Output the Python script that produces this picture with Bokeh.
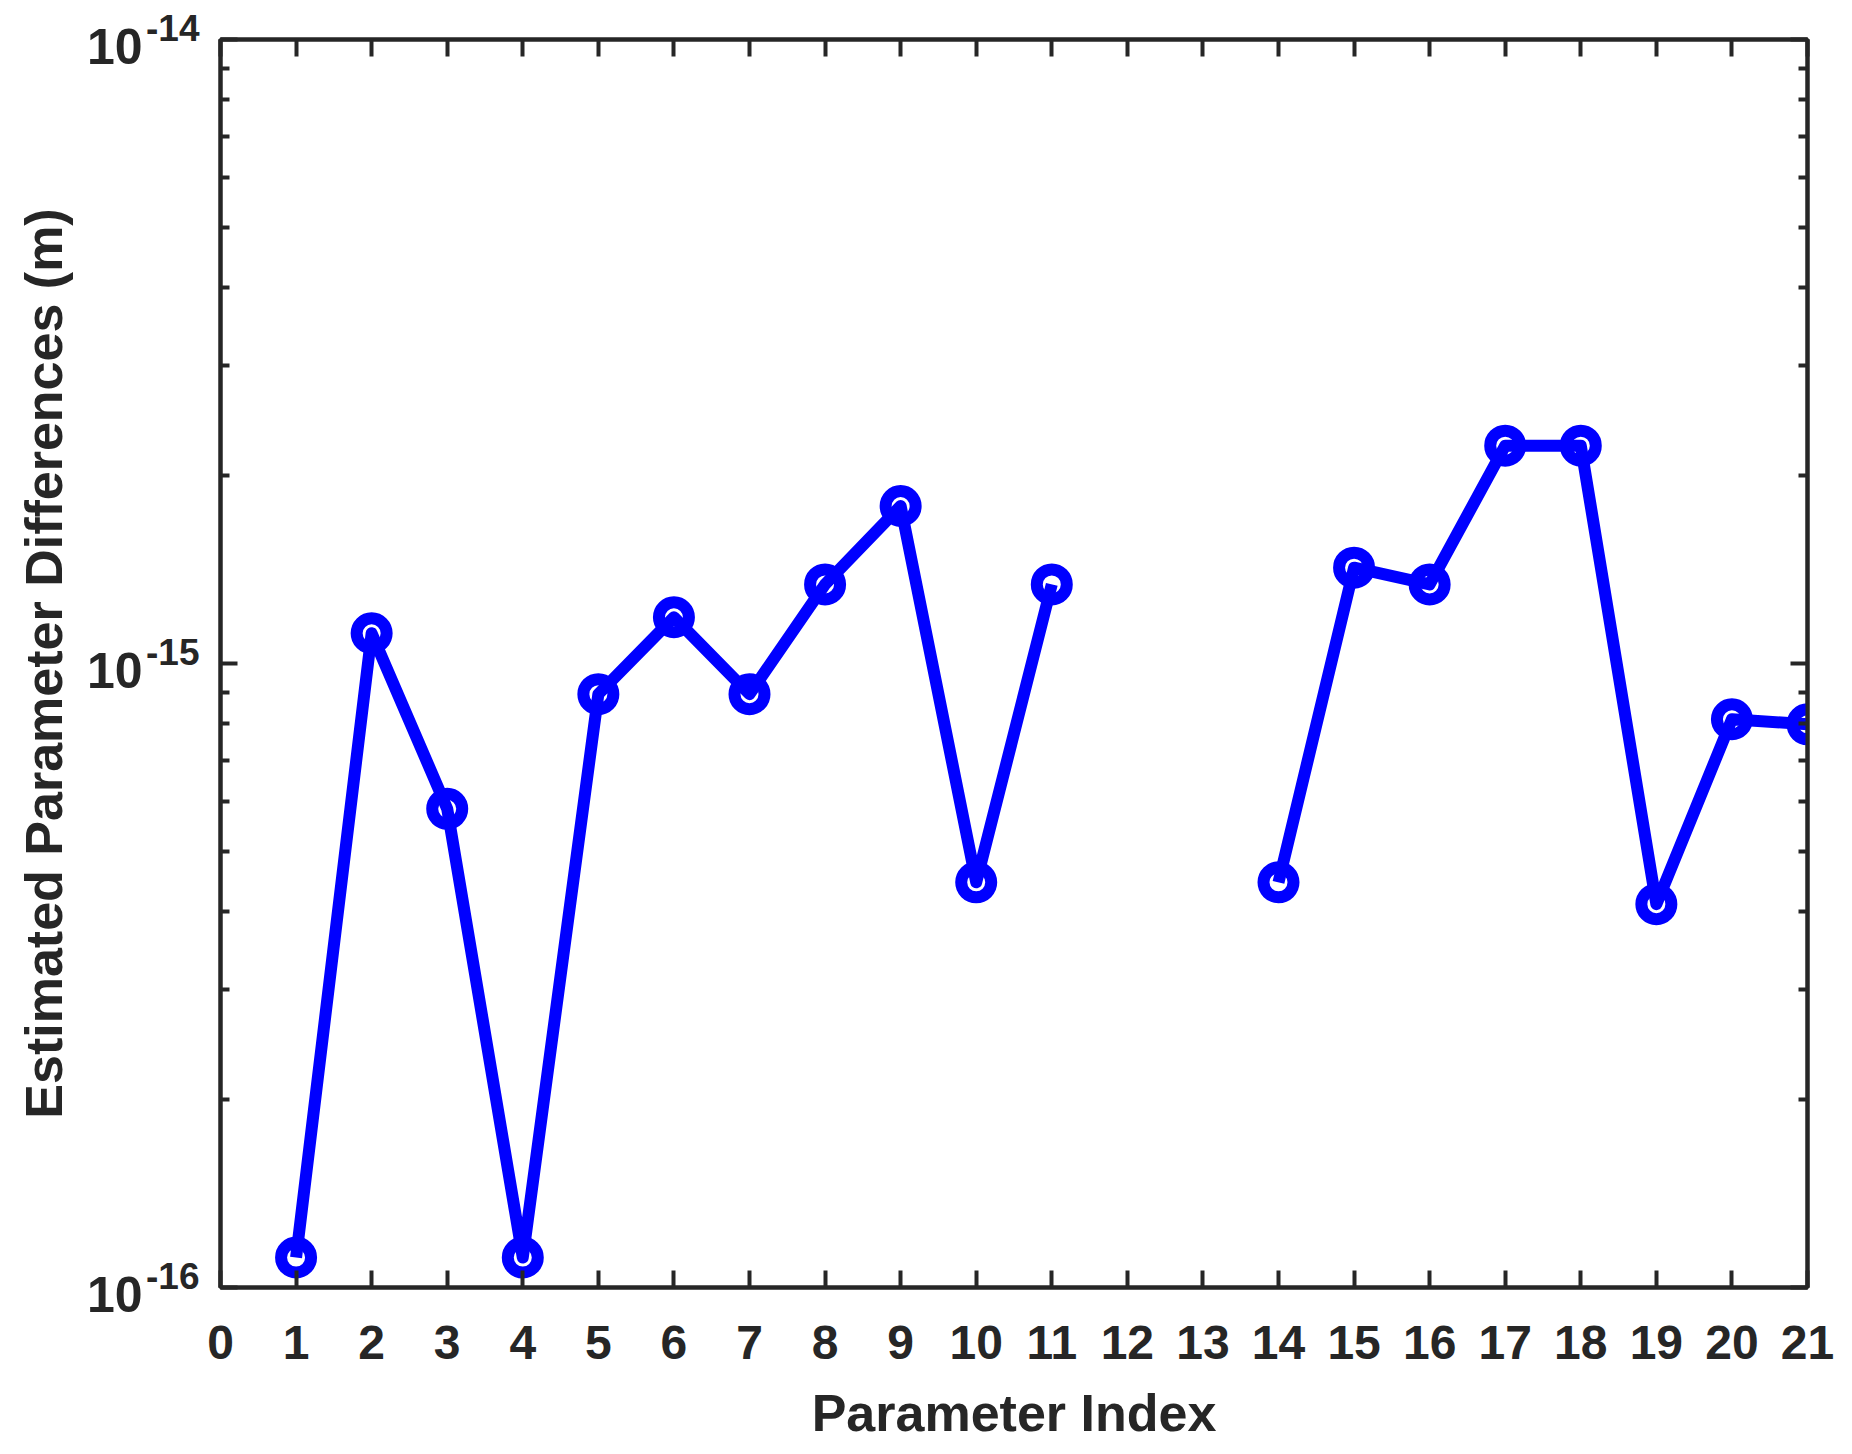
from bokeh.plotting import figure
from bokeh.models import (Range1d, FixedTicker, LinearAxis, LogAxis, ColumnDataSource)
from bokeh.embed import file_html
from bokeh.resources import INLINE

# ---- data ----
param_index = [1, 2, 3, 4, 5, 6, 7, 8, 9, 10, 11, 12, 13, 14, 15, 16, 17, 18, 19, 20, 21]
param_diff = [1.117e-16, 1.118e-15, 5.85e-16, 1.117e-16, 8.93e-16, 1.186e-15, 8.93e-16,
              1.339e-15, 1.788e-15, 4.46e-16, 1.339e-15, float("nan"), float("nan"),
              4.46e-16, 1.424e-15, 1.339e-15, 2.234e-15, 2.234e-15, 4.114e-16, 8.14e-16, 7.99e-16]
x_ticks = list(range(0, 22))
y_major = [1e-16, 1e-15, 1e-14]
y_base_labels = ["10", "10", "10"]
y_exp_labels = ["-16", "-15", "-14"]
y_minor = [m * 10.0 ** e for e in (-16, -15) for m in range(2, 10)]
x_title = "Parameter Index"
y_title = "Estimated Parameter Differences (m)"

FONT = "Liberation Sans"
TXT = "#262626"
BLUE = "#0000FF"
LW = 4

src = ColumnDataSource(dict(x=param_index, y=param_diff))

p = figure(frame_width=1587, frame_height=1248,
           x_range=Range1d(0, 21), y_range=Range1d(1e-16, 1e-14),
           y_axis_type="log", output_backend="svg", toolbar_location=None,
           min_border_left=220, min_border_top=39, min_border_right=29, min_border_bottom=140,
           background_fill_color="white", border_fill_color="white")
p.grid.visible = False
p.outline_line_color = TXT
p.outline_line_width = LW

# bottom axis
xa = p.xaxis[0]
xa.ticker = FixedTicker(ticks=x_ticks)
xa.major_tick_in = 17
xa.major_tick_out = 0
xa.minor_tick_in = 0
xa.minor_tick_out = 0
xa.axis_line_color = TXT
xa.axis_line_width = LW
xa.major_tick_line_color = TXT
xa.major_tick_line_width = LW
xa.major_label_text_font = FONT
xa.major_label_text_font_style = "bold"
xa.major_label_text_font_size = "48px"
xa.major_label_text_color = TXT
xa.major_label_standoff = 38
xa.axis_label = x_title
xa.axis_label_text_font = FONT
xa.axis_label_text_font_style = "bold"
xa.axis_label_text_font_size = "52px"
xa.axis_label_text_color = TXT
xa.axis_label_standoff = 22

# left axis: ticks only
ya = p.yaxis[0]
ya.ticker = FixedTicker(ticks=y_major, minor_ticks=y_minor)
ya.major_tick_in = 17
ya.major_tick_out = 0
ya.minor_tick_in = 9
ya.minor_tick_out = 0
ya.axis_line_color = TXT
ya.axis_line_width = LW
ya.major_tick_line_color = TXT
ya.major_tick_line_width = LW
ya.minor_tick_line_color = TXT
ya.minor_tick_line_width = LW
ya.major_label_text_font_size = "0px"
ya.major_label_text_color = None
ya.major_label_standoff = 0

label_axis_common = dict(ticker=FixedTicker(ticks=y_major), axis_line_color=None,
                         major_tick_line_color=None, minor_tick_line_color=None,
                         major_tick_in=0, major_tick_out=0, minor_tick_in=0, minor_tick_out=0,
                         major_label_text_font=FONT, major_label_text_font_style="bold",
                         major_label_text_color=TXT)

# exponent labels: a trailing empty line lifts them above the tick
exp_axis = LogAxis(major_label_overrides={v: s + "\n" for v, s in zip(y_major, y_exp_labels)},
                   major_label_text_font_size="37px", major_label_standoff=21,
                   major_label_text_line_height=0.55,
                   **label_axis_common)
p.add_layout(exp_axis, "left")

# base "10" labels: a leading empty line drops them slightly below the tick
base_axis = LogAxis(major_label_overrides={v: "\n" + s for v, s in zip(y_major, y_base_labels)},
                    major_label_text_font_size="50px", major_label_standoff=1,
                    major_label_text_line_height=0.28,
                    axis_label=y_title, axis_label_text_font=FONT,
                    axis_label_text_font_style="bold", axis_label_text_font_size="52px",
                    axis_label_text_color=TXT, axis_label_standoff=11,
                    **label_axis_common)
p.add_layout(base_axis, "left")

# top axis
ta = LinearAxis(ticker=FixedTicker(ticks=x_ticks), major_tick_in=17, major_tick_out=0,
                minor_tick_in=0, minor_tick_out=0, axis_line_color=TXT, axis_line_width=LW,
                major_tick_line_color=TXT, major_tick_line_width=LW,
                major_label_text_font_size="0px", major_label_text_color=None)
p.add_layout(ta, "above")

# right axis
ra = LogAxis(ticker=FixedTicker(ticks=y_major, minor_ticks=y_minor), major_tick_in=17, major_tick_out=0,
             minor_tick_in=9, minor_tick_out=0, axis_line_color=TXT, axis_line_width=LW,
             major_tick_line_color=TXT, major_tick_line_width=LW,
             minor_tick_line_color=TXT, minor_tick_line_width=LW,
             major_label_text_font_size="0px", major_label_text_color=None)
p.add_layout(ra, "right")

p.line("x", "y", source=src, line_color=BLUE, line_width=12, line_join="round")
p.scatter("x", "y", source=src, marker="circle", size=30, fill_color=None,
          line_color=BLUE, line_width=12)

open("out.html", "w").write(file_html(p, INLINE))
